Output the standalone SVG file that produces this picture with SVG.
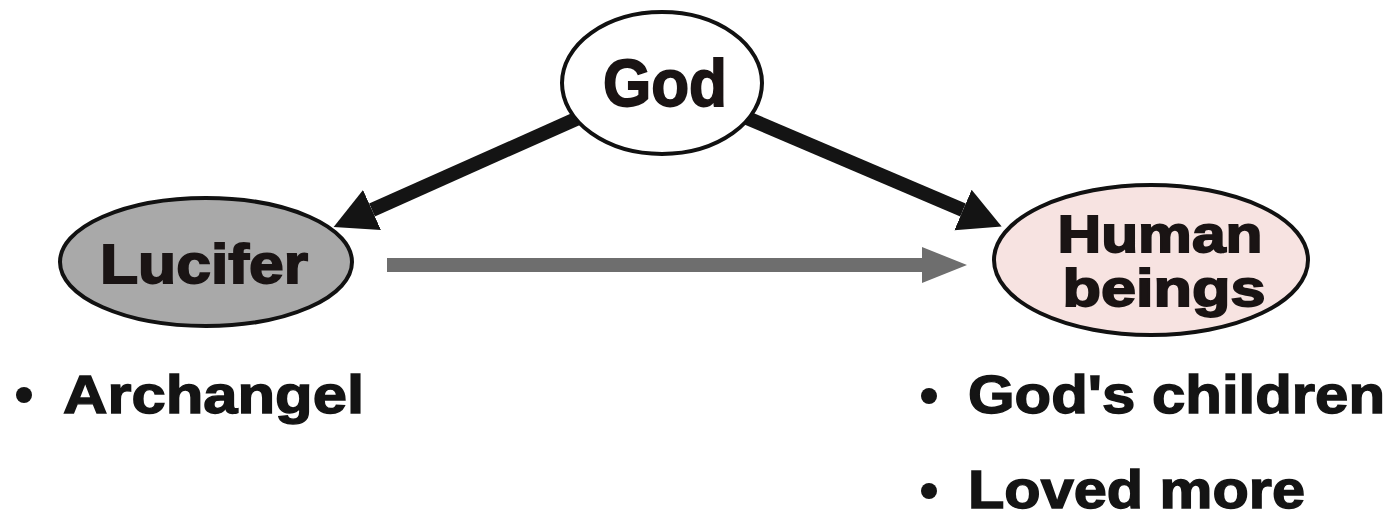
<svg xmlns="http://www.w3.org/2000/svg" width="1397" height="518" viewBox="0 0 1397 518">
<style>
.node{stroke:#111;stroke-width:4}
.lbl{font-family:"Liberation Sans",Arial,sans-serif;font-weight:bold;fill:#1a1414;stroke:#1a1414;stroke-width:1.8;text-anchor:middle}
.bul{font-family:"Liberation Sans",Arial,sans-serif;font-weight:bold;fill:#141414;stroke:#141414;stroke-width:1.4}
.blk{stroke:#141414;stroke-width:14;fill:none}
.gry{stroke:#6e6e6e;stroke-width:14;fill:none}
</style>
<defs>
<marker id="hb" markerUnits="userSpaceOnUse" markerWidth="44" markerHeight="50" refX="0" refY="25" orient="auto" viewBox="0 0 44 50">
<path d="M0,3 L42,25 L0,47 z" fill="#141414"/>
</marker>
<marker id="hg" markerUnits="userSpaceOnUse" markerWidth="46" markerHeight="40" refX="0" refY="20" orient="auto" viewBox="0 0 46 40">
<path d="M0,2 L45,20 L0,38 z" fill="#6e6e6e"/>
</marker>
</defs>
<rect width="1397" height="518" fill="#ffffff"/>
<g id="connectors">
<line class="blk" x1="585" y1="115" x2="372" y2="210" marker-end="url(#hb)"/>
<line class="blk" x1="740" y1="115" x2="963" y2="210" marker-end="url(#hb)"/>
<line class="gry" x1="387" y1="265" x2="922" y2="265" marker-end="url(#hg)"/>
</g>
<g id="god">
<ellipse class="node" cx="662" cy="83" rx="100" ry="71" fill="#ffffff"/>
<text class="lbl" x="665" y="106" font-size="66" textLength="124" lengthAdjust="spacingAndGlyphs">God</text>
</g>
<g id="lucifer">
<ellipse class="node" cx="206" cy="262" rx="146" ry="64" fill="#a9a9a9"/>
<text class="lbl" x="204" y="283" font-size="56" textLength="208" lengthAdjust="spacingAndGlyphs">Lucifer</text>
</g>
<g id="human">
<ellipse class="node" cx="1151" cy="260" rx="157" ry="75" fill="#f7e3e1"/>
<text class="lbl" x="1160" y="252" font-size="52" textLength="205" lengthAdjust="spacingAndGlyphs">Human</text>
<text class="lbl" x="1164" y="306" font-size="52" textLength="203" lengthAdjust="spacingAndGlyphs">beings</text>
</g>
<g id="lucifer-notes">
<circle cx="24" cy="395" r="8" fill="#141414"/>
<text class="bul" x="63" y="413" font-size="53" textLength="301" lengthAdjust="spacingAndGlyphs">Archangel</text>
</g>
<g id="human-notes">
<circle cx="929" cy="396" r="8" fill="#141414"/>
<text class="bul" x="968" y="413" font-size="53" textLength="417" lengthAdjust="spacingAndGlyphs">God's children</text>
<circle cx="929" cy="491" r="8" fill="#141414"/>
<text class="bul" x="968" y="508" font-size="53" textLength="337" lengthAdjust="spacingAndGlyphs">Loved more</text>
</g>
</svg>
